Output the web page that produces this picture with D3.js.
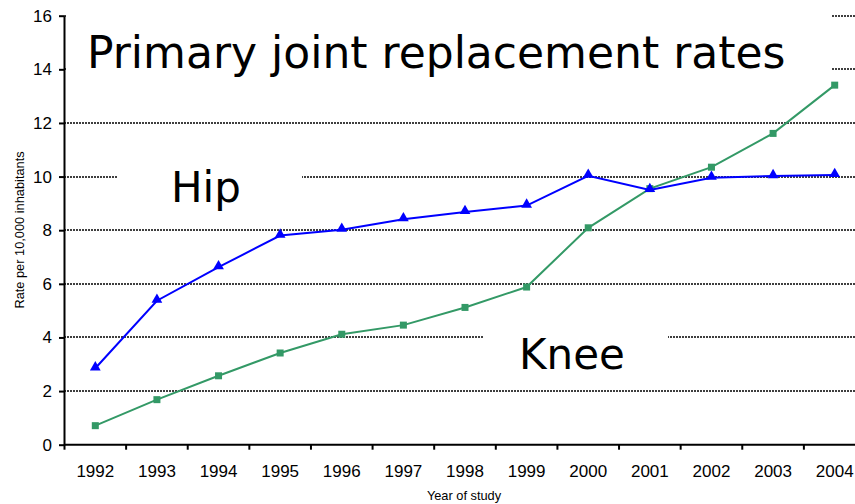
<!DOCTYPE html>
<html>
<head>
<meta charset="utf-8">
<script src="https://cdn.jsdelivr.net/npm/d3@7"></script>
<style>
  body { margin: 0; background: #fff; }
  svg { display: block; }
  .axis text { font-family: "Liberation Sans", Arial, sans-serif; font-size: 17px; fill: #000; }
  .axis path, .axis line { stroke: #000; stroke-width: 2px; }
  .grid { stroke: #000; stroke-width: 1.6px; stroke-dasharray: 2,1; }
  .big { font-family: "DejaVu Sans", Verdana, sans-serif; fill: #000; }
  .small { font-family: "Liberation Sans", Arial, sans-serif; font-size: 12.8px; fill: #000; }
</style>
</head>
<body>
<script>
"use strict";

var years = ["1992", "1993", "1994", "1995", "1996", "1997", "1998", "1999", "2000", "2001", "2002", "2003", "2004"];
var hip = [2.85, 5.37, 6.62, 7.8, 8.02, 8.41, 8.68, 8.92, 10.03, 9.5, 9.96, 10.02, 10.06];
var knee = [0.71, 1.68, 2.57, 3.42, 4.12, 4.46, 5.12, 5.88, 8.09, 9.55, 10.35, 11.61, 13.41];
var yTicks = [0, 2, 4, 6, 8, 10, 12, 14, 16];

var width = 855, height = 504;
var axisX = 64;

var svg = d3.select('body').append('svg')
  .attr('width', width)
  .attr('height', height);

var xScale = d3.scaleBand()
  .domain(years)
  .range([64.5, 865.5]);

var yScale = d3.scaleLinear()
  .domain([0, 16])
  .range([444.7, 15.7]);

// dashed grid lines
svg.append('g').selectAll('line')
  .data(yTicks.slice(1))
  .enter().append('line')
  .attr('class', 'grid')
  .attr('x1', axisX)
  .attr('x2', width)
  .attr('y1', function (d) { return Math.round(yScale(d)); })
  .attr('y2', function (d) { return Math.round(yScale(d)); });

// white text boxes sit over the grid
function label(text, x, y, size, box) {
  svg.append('rect')
    .attr('x', box[0]).attr('y', box[1])
    .attr('width', box[2]).attr('height', box[3])
    .attr('fill', '#fff');
  svg.append('text')
    .attr('class', 'big')
    .attr('x', x).attr('y', y)
    .style('font-size', size + 'px')
    .text(text);
}

label('Primary joint replacement rates', 87, 68, 44, [axisX + 2, 8, 832 - axisX - 2, 100]);
label('Hip', 171, 202, 42, [118, 160, 184, 50]);
label('Knee', 519, 369, 42, [484, 326, 184, 50]);

// y axis
svg.append('g')
  .attr('class', 'axis')
  .attr('transform', 'translate(' + axisX + ',0)')
  .call(d3.axisLeft(yScale).tickValues(yTicks).tickSize(5).tickSizeOuter(0).tickPadding(7));

// x axis: labels at band centres, ticks at band edges
var xAxis = svg.append('g')
  .attr('class', 'axis')
  .attr('transform', 'translate(0,' + yScale(0) + ')');

xAxis.call(d3.axisBottom(xScale).tickSize(0).tickSizeOuter(0).tickPadding(20));
xAxis.select('.domain').attr('d', 'M' + axisX + ',0H' + width);

xAxis.selectAll('.edge')
  .data(years)
  .enter().append('line')
  .attr('class', 'edge')
  .attr('x1', function (d) { return xScale(d); })
  .attr('x2', function (d) { return xScale(d); })
  .attr('y1', 0)
  .attr('y2', 5);

// axis titles
svg.append('text')
  .attr('class', 'small')
  .attr('text-anchor', 'middle')
  .attr('transform', 'translate(24,230) rotate(-90)')
  .text('Rate per 10,000 inhabitants');

svg.append('text')
  .attr('class', 'small')
  .attr('text-anchor', 'middle')
  .attr('x', 464)
  .attr('y', 500)
  .text('Year of study');

// series
var cx = function (d, i) { return xScale(years[i]) + xScale.bandwidth() / 2; };

var line = d3.line()
  .x(cx)
  .y(function (d) { return yScale(d); });

svg.append('path')
  .datum(knee)
  .attr('fill', 'none')
  .attr('stroke', '#339966')
  .attr('stroke-width', 2)
  .attr('d', line);

svg.append('g').selectAll('rect')
  .data(knee)
  .enter().append('rect')
  .attr('x', function (d, i) { return cx(d, i) - 3.5; })
  .attr('y', function (d) { return yScale(d) - 3.5; })
  .attr('width', 7)
  .attr('height', 7)
  .attr('fill', '#339966');

svg.append('path')
  .datum(hip)
  .attr('fill', 'none')
  .attr('stroke', '#0000ff')
  .attr('stroke-width', 2)
  .attr('d', line);

var tri = d3.symbol().type(d3.symbolTriangle).size(50);

svg.append('g').selectAll('path')
  .data(hip)
  .enter().append('path')
  .attr('d', tri)
  .attr('transform', function (d, i) { return 'translate(' + cx(d, i) + ',' + (yScale(d) - 1) + ')'; })
  .attr('fill', '#0000ff');
</script>
</body>
</html>
